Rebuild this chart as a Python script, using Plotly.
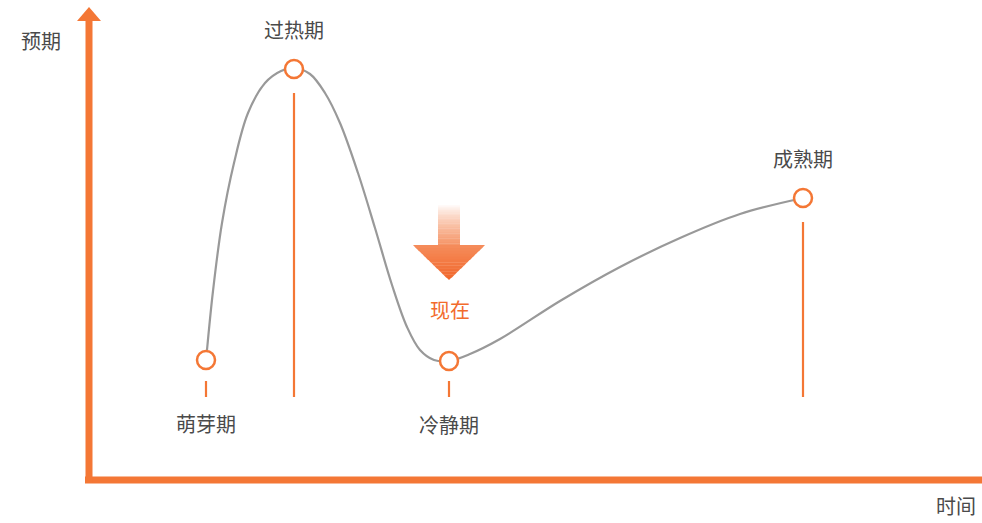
import plotly.graph_objects as go

W, H = 982, 523

# Stage data (x = time, y = expectation) (pixel-based units, y up)
stages = ["萌芽期", "过热期", "冷静期", "成熟期"]
stage_x = [206, 294, 449, 803]
stage_y = [163, 454, 162, 325]
label_pos = ["bottom", "top", "bottom", "top"]

# Hype curve points
curve_x = [207, 213, 222, 234, 248, 265, 281, 294, 310, 325, 340, 358, 375, 392, 407, 420, 434, 449, 470, 500, 560, 620, 680, 740, 803]
curve_y = [173, 232, 300, 360, 410, 440, 452, 455, 449, 430, 400, 350, 295, 238, 196, 173, 163, 162, 169, 184, 222, 256, 285, 309, 325]

# Vertical guide lines: top y for each stage, common bottom
guide_top = [142, 430, 142, 301]
guide_bottom = 126

ORANGE = "#F47735"
GRAY = "#999999"
TEXT = "#4a4a4a"
FONT = "Noto Sans CJK SC, Microsoft YaHei, sans-serif"
FS = 20

fig = go.Figure()

# curve
fig.add_trace(go.Scatter(x=curve_x, y=curve_y, mode="lines",
                         line=dict(color=GRAY, width=2.2, shape="spline", smoothing=1.0),
                         hoverinfo="skip", showlegend=False))

# guide lines
for sx, top in zip(stage_x, guide_top):
    fig.add_trace(go.Scatter(x=[sx, sx], y=[top, guide_bottom], mode="lines",
                             line=dict(color=ORANGE, width=2.2),
                             hoverinfo="skip", showlegend=False))

# markers
fig.add_trace(go.Scatter(x=stage_x, y=stage_y, mode="markers",
                         marker=dict(size=18, color="white", line=dict(color=ORANGE, width=2.5)),
                         showlegend=False, hoverinfo="skip"))

shapes = []
# axes
shapes.append(dict(type="line", x0=85, x1=982, y0=43, y1=43, line=dict(color=ORANGE, width=7)))
shapes.append(dict(type="line", x0=89, x1=89, y0=40, y1=502, line=dict(color=ORANGE, width=7)))
shapes.append(dict(type="path", path="M 77 502 L 101 502 L 89 516 Z", fillcolor=ORANGE, line=dict(width=0)))


def mix(c1, c2, t):
    a = [int(c1[i:i + 2], 16) for i in (1, 3, 5)]
    b = [int(c2[i:i + 2], 16) for i in (1, 3, 5)]
    return "#%02x%02x%02x" % tuple(round(a[k] + (b[k] - a[k]) * t) for k in range(3))


# gradient arrow ("现在")
ax_c = 449
shaft_top, shaft_bot = 523 - 205, 523 - 245
n = 24
for i in range(n):
    y0 = shaft_top - (shaft_top - shaft_bot) * i / n
    y1 = shaft_top - (shaft_top - shaft_bot) * (i + 1) / n - 0.3
    t = (i + 0.5) / n
    shapes.append(dict(type="rect", x0=438, x1=460, y0=y0, y1=y1,
                       fillcolor=mix("#FFFFFF", "#F59466", t ** 0.8), line=dict(width=0)))
head_top, head_tip = 523 - 245, 523 - 280
half = 36
m = 12
for i in range(m):
    ya = head_top - (head_top - head_tip) * i / m
    yb = head_top - (head_top - head_tip) * (i + 1) / m
    wa = half * (1 - i / m)
    wb = half * (1 - (i + 1) / m)
    t = (i + 0.5) / m
    col = mix("#F58D5C", "#F1662A", t)
    yb2 = yb - 0.3 if i < m - 1 else yb
    shapes.append(dict(type="path",
                       path=f"M {ax_c - wa} {ya} L {ax_c + wa} {ya} L {ax_c + wb} {yb2} L {ax_c - wb} {yb2} Z",
                       fillcolor=col, line=dict(width=0)))

fig.update_layout(shapes=shapes)

ann = []
for name, sx, sy, pos in zip(stages, stage_x, stage_y, label_pos):
    yy = sy - 63 if pos == "bottom" else sy + 40
    ann.append(dict(x=sx, y=yy, text=name, showarrow=False,
                    font=dict(family=FONT, size=FS, color=TEXT), xanchor="center", yanchor="middle"))
ann.append(dict(x=41, y=523 - 40, text="预期", showarrow=False,
                font=dict(family=FONT, size=FS, color=TEXT), xanchor="center", yanchor="middle"))
ann.append(dict(x=956, y=1, text="时间", showarrow=False,
                font=dict(family=FONT, size=FS, color=TEXT), xanchor="center", yanchor="bottom"))
ann.append(dict(x=450, y=523 - 309, text="现在", showarrow=False,
                font=dict(family=FONT, size=FS, color="#F26B2C"), xanchor="center", yanchor="middle"))
fig.update_layout(annotations=ann)

fig.update_layout(
    width=W, height=H, margin=dict(l=0, r=0, t=0, b=0),
    paper_bgcolor="white", plot_bgcolor="white",
    xaxis=dict(range=[0, W], visible=False, fixedrange=True),
    yaxis=dict(range=[0, H], visible=False, fixedrange=True),
    showlegend=False,
)

fig.write_html("out.html")
